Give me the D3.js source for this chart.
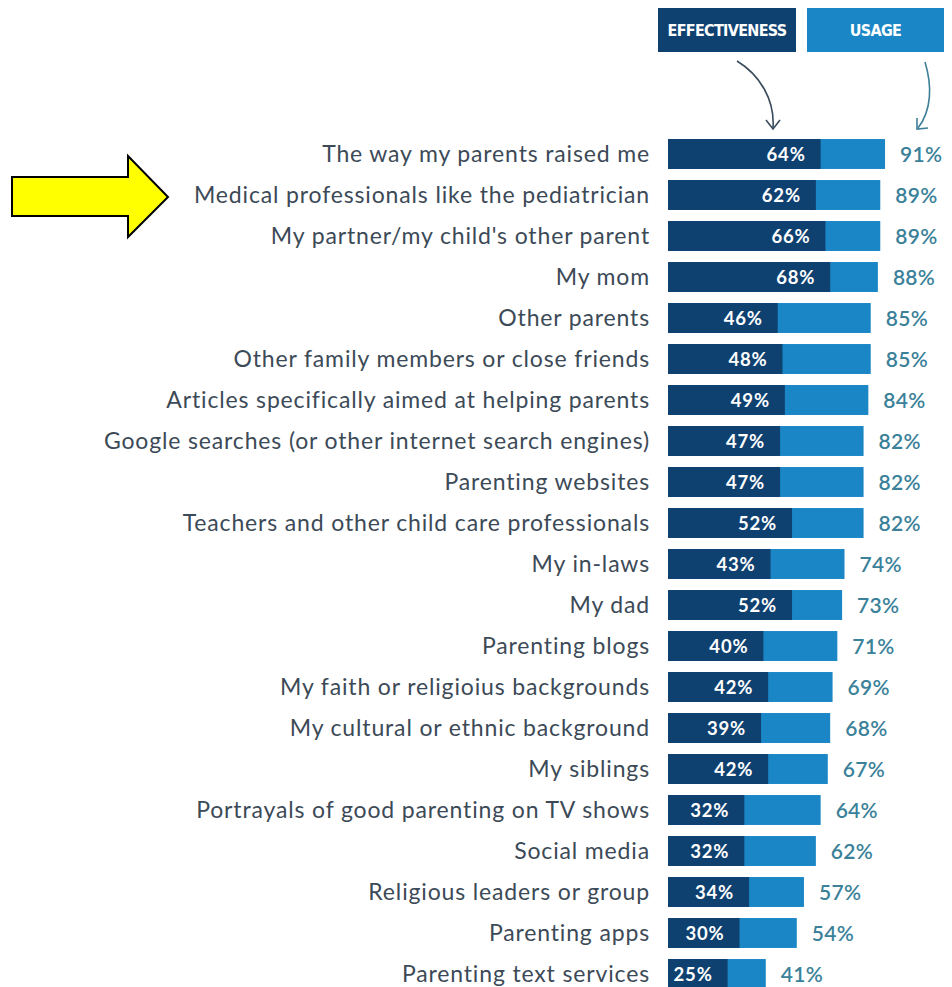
<!DOCTYPE html>
<html><head><meta charset="utf-8">
<script src="https://cdn.jsdelivr.net/npm/d3@7"></script>
<style>body{margin:0;background:#fff;} svg{display:block;}</style>
</head><body>
<svg id="chart" width="952" height="987"></svg>
<script>
const categories = ["The way my parents raised me","Medical professionals like the pediatrician","My partner/my child's other parent","My mom","Other parents","Other family members or close friends","Articles specifically aimed at helping parents","Google searches (or other internet search engines)","Parenting websites","Teachers and other child care professionals","My in-laws","My dad","Parenting blogs","My faith or religioius backgrounds","My cultural or ethnic background","My siblings","Portrayals of good parenting on TV shows","Social media","Religious leaders or group","Parenting apps","Parenting text services"];
const effectiveness = [64,62,66,68,46,48,49,47,47,52,43,52,40,42,39,42,32,32,34,30,25];
const usage = [91,89,89,88,85,85,84,82,82,82,74,73,71,69,68,67,64,62,57,54,41];
const legendLabels = ["EFFECTIVENESS","USAGE"];

const data = categories.map((c,i)=>({c, e:effectiveness[i], u:usage[i]}));
const svg = d3.select("#chart");
const dark = "#0f4170", light = "#1a86c6";

const x = d3.scaleLinear().domain([0,100]).range([668, 668+238.5]);
const y = d3.scaleBand().domain(categories).range([133.5, 994.5]).paddingInner(0.27).paddingOuter(0.135);

const g = svg.append("g");
const row = g.selectAll("g.row").data(data).join("g").attr("class","row");
row.append("rect").attr("x", x(0)).attr("y", d=>y(d.c)).attr("height", y.bandwidth())
  .attr("width", d=>x(d.u)-x(0)).attr("fill", light);
row.append("rect").attr("x", x(0)).attr("y", d=>y(d.c)).attr("height", y.bandwidth())
  .attr("width", d=>x(d.e)-x(0)).attr("fill", dark);
row.append("text").attr("x", d=>x(d.e)-15).attr("y", d=>y(d.c)+y.bandwidth()/2)
  .attr("dy","0.36em").attr("text-anchor","end").attr("fill","#fff")
  .attr("font-family","Lato").attr("font-weight","bold").attr("font-size",18.5).attr("letter-spacing",0.8)
  .text(d=>d.e+"%");
row.append("text").attr("x", d=>x(d.u)+15).attr("y", d=>y(d.c)+y.bandwidth()/2)
  .attr("dy","0.36em").attr("fill","#3a8199")
  .attr("font-family","Lato").attr("font-weight",600).attr("font-size",21).attr("letter-spacing",0.3)
  .text(d=>d.u+"%");
row.append("text").attr("x", 650).attr("y", d=>y(d.c)+y.bandwidth()/2)
  .attr("dy","0.36em").attr("text-anchor","end").attr("fill","#3c4a57")
  .attr("font-family","Lato").attr("font-size",23).attr("letter-spacing",0.85)
  .text(d=>d.c);

// legend
const leg = [{t:legendLabels[0], x:658, w:138, c:dark},{t:legendLabels[1], x:807, w:137, c:light}];
const lg = svg.append("g").selectAll("g").data(leg).join("g");
lg.append("rect").attr("x",d=>d.x).attr("y",8).attr("width",d=>d.w).attr("height",44).attr("fill",d=>d.c);
lg.append("text").attr("x",d=>d.x+d.w/2).attr("y",30).attr("dy","0.36em").attr("text-anchor","middle")
  .attr("fill","#fff").attr("font-family","'Liberation Sans Narrow','DejaVu Sans Condensed',sans-serif")
  .attr("font-weight","bold").attr("font-size",16).attr("letter-spacing",-0.7).text(d=>d.t);

// curved arrows
const ac = "#3b4c5c";
svg.append("path").attr("d","M737,61 C760,75 775,100 773,128").attr("fill","none").attr("stroke",ac).attr("stroke-width",1.6);
svg.append("path").attr("d","M766,120 L773,129 L780,120").attr("fill","none").attr("stroke",ac).attr("stroke-width",1.6);
svg.append("path").attr("d","M925,62 C932,85 932,110 918,128").attr("fill","none").attr("stroke","#3f8098").attr("stroke-width",1.6);
svg.append("path").attr("d","M917,118 L917,129 L928,128").attr("fill","none").attr("stroke","#3f8098").attr("stroke-width",1.6);

// yellow arrow
svg.append("path").attr("d","M12,177 L128,177 L128,156 L168,197 L128,237 L128,216 L12,216 Z")
  .attr("fill","#ffff00").attr("stroke","#000").attr("stroke-width",2).attr("stroke-linejoin","miter");
</script>
</body></html>
